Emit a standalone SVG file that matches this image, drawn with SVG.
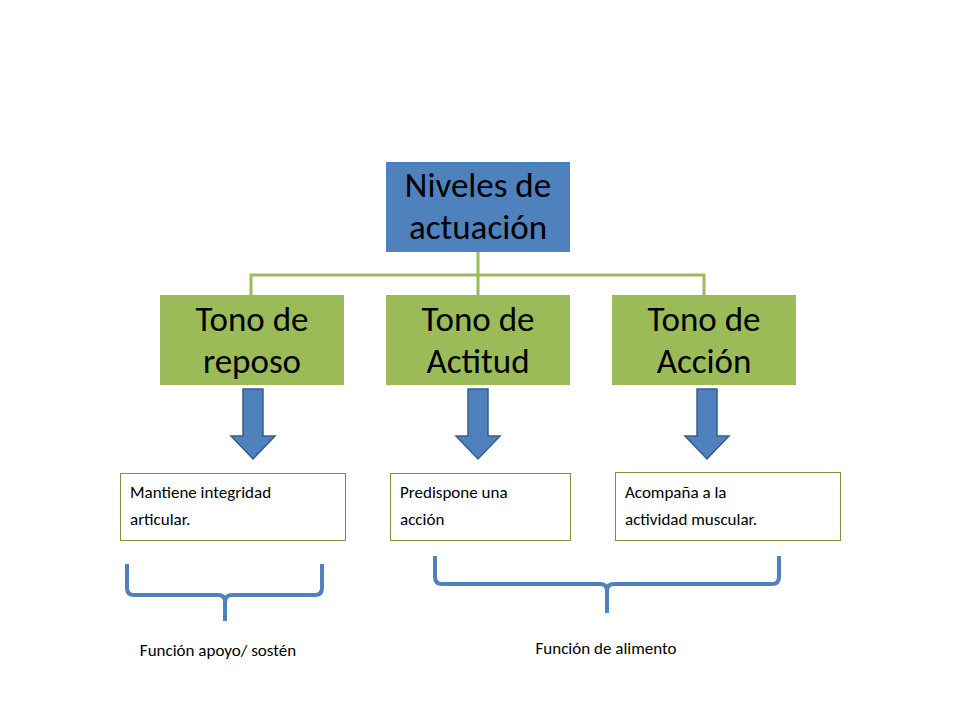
<svg xmlns="http://www.w3.org/2000/svg" width="960" height="720" viewBox="0 0 960 720">
<style>
.t{font-family:Calibri,"Carlito","Liberation Sans",sans-serif;fill:#000}
.big{font-size:35px;text-anchor:middle}
.sm{font-size:17px}
.desc{fill:#fff;stroke:#77933C;stroke-width:1}
.arr{fill:#4F81BD;stroke:#385D8A;stroke-width:1.5}
.br{fill:none;stroke:#4F81BD;stroke-width:4}
</style>
<rect width="960" height="720" fill="#fff"/>
<g id="connectors" fill="none" stroke="#9BBB59" stroke-width="3">
<path d="M478 252V275M251 295V275H704V295M478 275V295"/>
</g>
<g id="root"><rect x="386" y="162" width="184" height="90" fill="#4F81BD"/>
<text class="t big" x="478" y="197">Niveles de</text><text class="t big" x="478" y="239">actuación</text></g>
<g id="n1"><rect x="160" y="295" width="184" height="90" fill="#9BBB59"/>
<text class="t big" x="252" y="331">Tono de</text><text class="t big" x="252" y="373">reposo</text></g>
<g id="n2"><rect x="386" y="295" width="184" height="90" fill="#9BBB59"/>
<text class="t big" x="478" y="331">Tono de</text><text class="t big" x="478" y="373">Actitud</text></g>
<g id="n3"><rect x="612" y="295" width="184" height="90" fill="#9BBB59"/>
<text class="t big" x="704" y="331">Tono de</text><text class="t big" x="704" y="373">Acción</text></g>
<g id="a1"><path class="arr" d="M243 389H263V436H275L253 459L231 436H243Z"/></g>
<g id="a2"><path class="arr" d="M468 389H488V436H500L478 459L456 436H468Z"/></g>
<g id="a3"><path class="arr" d="M697 389H717V436H729L707 459L685 436H697Z"/></g>
<g id="d1"><rect class="desc" x="120.5" y="473.5" width="225" height="67"/>
<text class="t sm" x="130" y="498">Mantiene integridad</text><text class="t sm" x="130" y="525">articular.</text></g>
<g id="d2"><rect class="desc" x="390.5" y="473.5" width="180" height="67"/>
<text class="t sm" x="400" y="498">Predispone una</text><text class="t sm" x="400" y="525">acción</text></g>
<g id="d3"><rect class="desc" x="615.5" y="472.5" width="225" height="68"/>
<text class="t sm" x="625" y="498">Acompaña a la</text><text class="t sm" x="625" y="525">actividad muscular.</text></g>
<g id="b1"><path class="br" d="M127 564V588Q127 595 134 595H218Q225 595 225 602V621M225 602Q225 595 232 595H315Q322 595 322 588V564"/>
<text class="t sm" x="218" y="656" text-anchor="middle">Función apoyo/ sostén</text></g>
<g id="b2"><path class="br" d="M435 556V577Q435 584 442 584H600Q607 584 607 591V613M607 591Q607 584 614 584H772Q779 584 779 577V556"/>
<text class="t sm" x="606" y="654" text-anchor="middle">Función de alimento</text></g>
</svg>
